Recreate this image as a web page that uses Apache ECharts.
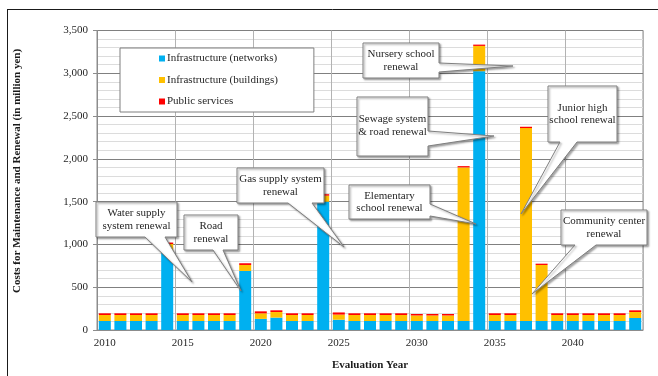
<!DOCTYPE html>
<html>
<head>
<meta charset="utf-8">
<script src="https://cdn.jsdelivr.net/npm/echarts@6/dist/echarts.min.js"></script>
<style>
  html, body { margin: 0; padding: 0; background: #fff; }
  #chart { width: 658px; height: 376px; }
</style>
</head>
<body>
<div id="chart"></div>
<script>
// Evaluation years (one bar each)
const years = [];
for (let y = 2010; y <= 2044; y++) years.push(String(y));

// Costs in million yen, stacked per year
const networks = [
  105, 105, 105, 105, 905, 105, 105, 105, 105, 690,
  130, 145, 105, 105, 1500, 120, 105, 105, 105, 105,
  105, 105, 105, 105, 3025, 105, 105, 105, 105, 105,
  105, 105, 105, 105, 140
];
const buildings = [
  70, 70, 70, 70, 100, 70, 70, 70, 70, 70,
  65, 65, 70, 70, 70, 60, 70, 70, 70, 70,
  65, 65, 65, 1795, 295, 70, 70, 2255, 655, 70,
  70, 70, 70, 70, 70
];
const publicServices = [
  20, 20, 20, 20, 17, 20, 20, 20, 20, 20,
  23, 20, 20, 20, 17, 25, 20, 20, 20, 20,
  17, 17, 17, 15, 15, 20, 20, 15, 15, 20,
  20, 20, 20, 20, 20
];

const seriesNames = ['Infrastructure (networks)', 'Infrastructure (buildings)', 'Public services'];
const seriesColors = ['#00B0F0', '#FFC000', '#FF0000'];

// Callout boxes: box [x0, y0, x1, y1], pointer base and tip, text lines
const callouts = [
  { box: [96, 202, 177, 237], side: 'bottom', base: [145, 165], tip: [192, 282],
    lines: ['Water supply', 'system renewal'] },
  { box: [184, 215, 238, 250], side: 'bottom', base: [213, 223], tip: [241, 291],
    lines: ['Road', 'renewal'] },
  { box: [237, 168, 324, 203], side: 'bottom', base: [288, 312], tip: [344, 247],
    lines: ['Gas supply system', 'renewal'] },
  { box: [363, 43, 439, 78], side: 'right', base: [63, 72], tip: [513, 66],
    lines: ['Nursery school', 'renewal'] },
  { box: [357, 97, 428, 156], side: 'right', base: [131, 146], tip: [494, 136],
    lines: ['Sewage system', '& road renewal'], textY: [119, 132] },
  { box: [349, 185, 430, 219], side: 'right', base: [204, 216], tip: [476, 224],
    lines: ['Elementary', 'school renewal'] },
  { box: [548, 86, 617, 142], side: 'bottom', base: [560, 577], tip: [521, 214],
    lines: ['Junior high', 'school renewal'], textY: [108, 120] },
  { box: [561, 210, 647, 245], side: 'bottom', base: [575, 596], tip: [532, 294],
    lines: ['Community center', 'renewal'] }
];

const FONT = '"Liberation Serif", "Times New Roman", serif';

function calloutGraphics(c) {
  const [x0, y0, x1, y1] = c.box;
  let pts;
  if (c.side === 'bottom') {
    pts = [[x0, y0], [x1, y0], [x1, y1], [c.base[1], y1], c.tip, [c.base[0], y1], [x0, y1]];
  } else {
    pts = [[x0, y0], [x1, y0], [x1, c.base[0]], c.tip, [x1, c.base[1]], [x1, y1], [x0, y1]];
  }
  const els = [{
    type: 'polygon',
    z: 100,
    shape: { points: pts },
    style: {
      fill: '#ffffff', stroke: '#7f7f7f', lineWidth: 1,
      shadowBlur: 2, shadowOffsetX: 1.5, shadowOffsetY: 1.5, shadowColor: 'rgba(0,0,0,0.35)'
    }
  }];
  const cx = (x0 + x1) / 2;
  const mid = (y0 + y1) / 2;
  const ys = c.textY || [mid - 6.2, mid + 6.2];
  c.lines.forEach((t, i) => {
    els.push({
      type: 'text', z: 101, x: cx, y: ys[i],
      style: { text: t, fill: '#262626', font: '11px ' + FONT, textAlign: 'center', textVerticalAlign: 'middle' }
    });
  });
  return els;
}

const graphics = [
  // page frame
  { type: 'line', z: 0, shape: { x1: 7, y1: 9.5, x2: 658, y2: 9.5 }, style: { stroke: '#1a1a1a', lineWidth: 1 } },
  { type: 'line', z: 0, shape: { x1: 7.5, y1: 9, x2: 7.5, y2: 376 }, style: { stroke: '#1a1a1a', lineWidth: 1 } },
  // vertical axis title
  { type: 'text', z: 10, x: 17, y: 171, rotation: Math.PI / 2,
    style: { text: 'Costs for Maintenance and Renewal (in million yen)', fill: '#1a1a1a',
             font: 'bold 11px ' + FONT, textAlign: 'center', textVerticalAlign: 'middle' } }
];
callouts.forEach(c => graphics.push(...calloutGraphics(c)));

const chart = echarts.init(document.getElementById('chart'), null, { renderer: 'canvas' });
chart.setOption({
  animation: false,
  backgroundColor: '#ffffff',
  textStyle: { fontFamily: FONT },
  grid: { left: 97, right: 15, top: 30.5, bottom: 42.3, show: true, borderColor: '#8c8c8c', borderWidth: 1, backgroundColor: 'transparent' },
  legend: {
    data: seriesNames,
    orient: 'vertical',
    left: 120, top: 48,
    width: 196,
    padding: [5, 36, 5, 39],
    itemWidth: 6, itemHeight: 6,
    itemGap: 10.5,
    icon: 'rect',
    backgroundColor: '#ffffff',
    borderColor: '#7f7f7f', borderWidth: 1,
    textStyle: { fontSize: 11, color: '#262626', fontFamily: FONT, padding: [0, 0, 0, -3] },
    z: 50
  },
  xAxis: {
    type: 'category',
    data: years,
    boundaryGap: true,
    name: 'Evaluation Year',
    nameLocation: 'middle',
    nameGap: 30,
    nameTextStyle: { fontWeight: 'bold', fontSize: 11, color: '#1a1a1a', fontFamily: FONT },
    axisLine: { lineStyle: { color: '#8c8c8c' } },
    axisTick: { interval: 4, length: 4, lineStyle: { color: '#8c8c8c' } },
    axisLabel: { interval: 4, fontSize: 11, color: '#262626', margin: 8, fontFamily: FONT },
    splitLine: { show: true, interval: 4, lineStyle: { color: '#b3b3b3', width: 1 } }
  },
  yAxis: {
    type: 'value',
    min: 0, max: 3500, interval: 500,
    axisLine: { show: true, lineStyle: { color: '#8c8c8c' } },
    axisTick: { show: true, length: 4, lineStyle: { color: '#8c8c8c' } },
    axisLabel: { fontSize: 11, color: '#262626', margin: 9, fontFamily: FONT,
                 formatter: v => v.toLocaleString('en-US') },
    splitLine: { show: true, lineStyle: { color: '#808080', width: 1 } },
    minorTick: { show: false, splitNumber: 5 },
    minorSplitLine: { show: true, lineStyle: { color: '#dcdcdc', width: 1 } }
  },
  series: [networks, buildings, publicServices].map((d, i) => ({
    name: seriesNames[i],
    type: 'bar',
    stack: 'cost',
    data: d,
    barCategoryGap: '23%',
    itemStyle: { color: seriesColors[i] },
    z: 2
  })),
  graphic: graphics
});
</script>
</body>
</html>
